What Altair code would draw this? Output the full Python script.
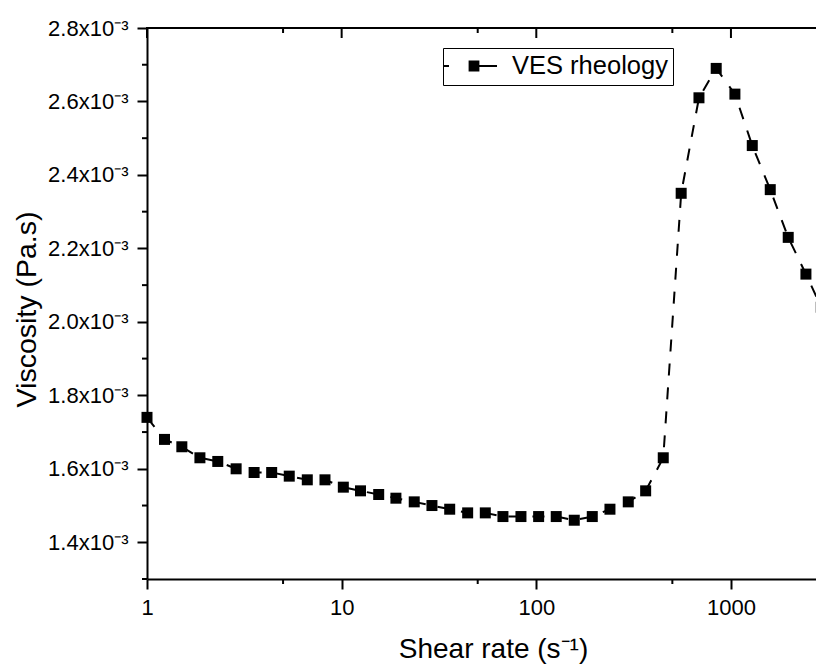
import altair as alt
import pandas as pd

# ---- data ----
shear_rate = [1.0, 1.23, 1.51, 1.87, 2.31, 2.87, 3.55, 4.37, 5.38, 6.66,
              8.21, 10.2, 12.5, 15.5, 19.0, 23.6, 29.1, 35.9, 44.4, 54.7,
              67.4, 83.4, 102.8, 126.6, 156.7, 193.9, 239, 296.8, 364.6, 449,
              555, 685, 840, 1048, 1287, 1592, 1969, 2428, 2910]
viscosity_e3 = [1.74, 1.68, 1.66, 1.63, 1.62, 1.60, 1.59, 1.59, 1.58, 1.57,
                1.57, 1.55, 1.54, 1.53, 1.52, 1.51, 1.50, 1.49, 1.48, 1.48,
                1.47, 1.47, 1.47, 1.47, 1.46, 1.47, 1.49, 1.51, 1.54, 1.63,
                2.35, 2.61, 2.69, 2.62, 2.48, 2.36, 2.23, 2.13, 2.04]
series_name = "VES rheology"

x_major = [1, 10, 100, 1000]
x_minor = [5, 50, 500]
y_major = [1.4e-3, 1.6e-3, 1.8e-3, 2.0e-3, 2.2e-3, 2.4e-3, 2.6e-3, 2.8e-3]
y_minor = [1.3e-3, 1.5e-3, 1.7e-3, 1.9e-3, 2.1e-3, 2.3e-3, 2.5e-3, 2.7e-3]
x_domain = [1, 2735]          # visible part of the x axis (frame is cropped on the right)
y_domain = [1.3e-3, 2.8e-3]

df = pd.DataFrame({
    "rate": shear_rate,
    "visc": [v * 1e-3 for v in viscosity_e3],
    "series": series_name,
})

W, H = 669, 551
FONT = "Liberation Sans"

xs = alt.Scale(type="log", domain=x_domain, nice=False)
ys = alt.Scale(domain=y_domain, nice=False, zero=False)

x_axis = alt.Axis(values=x_major, format="d", tickSize=10, tickWidth=2,
                  domainWidth=2, domainColor="black", tickColor="black",
                  labelFont=FONT, labelFontSize=22, labelColor="black",
                  labelPadding=8, labelFlush=False, labelOverlap=False,
                  labelBound=False, grid=False,
                  title="Shear rate (s\u207b\u00b9)", titleFont=FONT,
                  titleFontSize=28, titleFontWeight="normal", titleColor="black",
                  titleX=346, titleY=78, titleAlign="center",
                  titleBaseline="alphabetic")

y_axis = alt.Axis(values=y_major,
                  labelExpr="format(datum.value*1000, '.1f') + 'x10\u207b\u00b3'",
                  tickSize=10, tickWidth=2, domainWidth=2, domainColor="black",
                  tickColor="black", labelFont=FONT, labelFontSize=22,
                  labelColor="black", labelPadding=9, labelFlush=False,
                  labelOverlap=False, labelBound=False, grid=False,
                  title="Viscosity (Pa.s)", titleFont=FONT, titleFontSize=28.5,
                  titleFontWeight="normal", titleColor="black",
                  titleAngle=270, titleX=-121, titleY=281, titleAlign="center",
                  titleBaseline="middle")

# legend sample: dash, filled square, dash (units of half the symbol width)
legend_symbol = ("M-1.385,-0.077H-0.923V0.077H-1.385Z"
                 "M0.585,-0.415H1.415V0.415H0.585Z"
                 "M1.415,-0.077H2.77V0.077H1.415Z")

X = lambda f: alt.X(f, type="quantitative", scale=xs, axis=x_axis)
Y = lambda f: alt.Y(f, type="quantitative", scale=ys, axis=y_axis)

line = alt.Chart(df).mark_line(color="black", strokeWidth=2,
                               strokeDash=[12, 12]).encode(
    x=X("rate"), y=Y("visc"))

points = alt.Chart(df).mark_square(size=121, opacity=1, filled=True).encode(
    x=X("rate"), y=Y("visc"),
    color=alt.Color("series:N", scale=alt.Scale(range=["black"]),
                    legend=alt.Legend(title=None, orient="none",
                                      legendX=296, legendY=20,
                                      symbolType=legend_symbol, symbolSize=676,
                                      symbolStrokeWidth=0, symbolOpacity=1,
                                      labelFont=FONT, labelFontSize=25.5,
                                      labelColor="black", labelOffset=38,
                                      padding=5, strokeColor="black",
                                      fillColor="white")),
)

ymin = pd.DataFrame({"v": y_minor})
xmin = pd.DataFrame({"v": x_minor})
xmaj = pd.DataFrame({"v": x_major})

def yrule(d, x0, x1):
    return alt.Chart(d).mark_rule(color="black", strokeWidth=2).encode(
        y=Y("v"), x=alt.value(x0), x2=alt.value(x1))

def xrule(d, y0, y1):
    return alt.Chart(d).mark_rule(color="black", strokeWidth=2).encode(
        x=X("v"), y=alt.value(y0), y2=alt.value(y1))

top_frame = alt.Chart(pd.DataFrame({"v": [y_domain[1]]})).mark_rule(
    color="black", strokeWidth=2).encode(
    y=Y("v"), x=alt.value(-1), x2=alt.value(W))

ticks = [
    yrule(ymin, -5, 0),          # left minor ticks (outward)
    xrule(xmin, H, H + 5),       # bottom minor ticks (outward)
    xrule(xmaj, 0, 10),          # top major ticks (inward)
    xrule(xmin, 0, 5),           # top minor ticks (inward)
]

chart = alt.layer(line, points, top_frame, *ticks).properties(
    width=W, height=H,
    autosize=alt.AutoSizeParams(type="none"),
    padding={"left": 139, "top": 20, "right": 0, "bottom": 86},
    background="white",
).configure_view(stroke=None)

chart.save("out.html", embed_options={"renderer": "svg", "actions": False})
